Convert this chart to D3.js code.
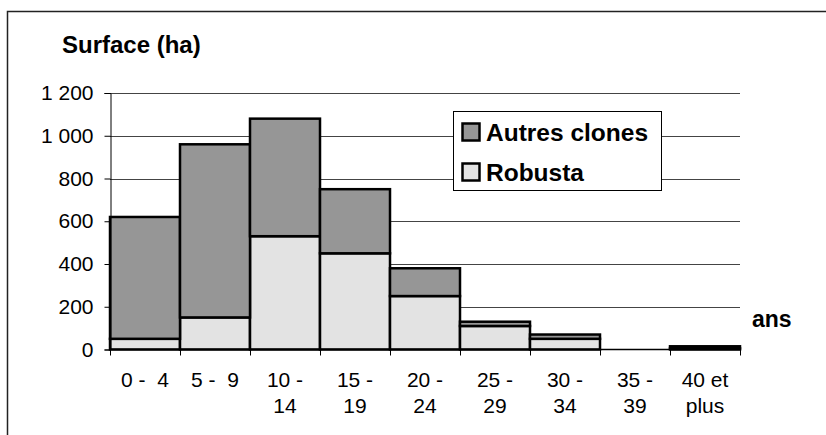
<!DOCTYPE html>
<html><head><meta charset="utf-8">
<script src="https://cdn.jsdelivr.net/npm/d3@7"></script>
<style>body{margin:0;background:#fff}svg{display:block;font-family:"Liberation Sans",Arial,sans-serif}</style>
</head><body><svg id="c" width="826" height="435"></svg>
<script>
const categories = ["0 - 4","5 - 9","10 - 14","15 - 19","20 - 24","25 - 29","30 - 34","35 - 39","40 et plus"];
const labelLines = [["0 -  4"],["5 -  9"],["10 -","14"],["15 -","19"],["20 -","24"],["25 -","29"],["30 -","34"],["35 -","39"],["40 et","plus"]];
const robusta = [50,150,530,450,250,110,50,0,5];
const autres  = [570,810,550,300,130,20,20,0,10];
const yTicks = [0,200,400,600,800,1000,1200];
const seriesNames = ["Autres clones","Robusta"];
const colors = {"Robusta":"#e3e3e3","Autres clones":"#969696"};

const svg = d3.select("#c");
svg.append("rect").attr("x",7.5).attr("y",11.5).attr("width",830).attr("height",440)
  .attr("fill","none").attr("stroke","#222").attr("stroke-width",1.5);

const x = d3.scaleBand().domain(categories).range([110,740]).padding(0);
const y = d3.scaleLinear().domain([0,1200]).range([349.5,93]);

// gridlines
svg.append("g").selectAll("line").data(yTicks.filter(d=>d>0)).join("line")
  .attr("x1",110).attr("x2",740).attr("y1",d=>Math.round(y(d))+0.5).attr("y2",d=>Math.round(y(d))+0.5)
  .attr("stroke","#444").attr("stroke-width",1);

const data = categories.map((c,i)=>({cat:c, Robusta:robusta[i], "Autres clones":autres[i]}));
const stack = d3.stack().keys(["Robusta","Autres clones"])(data);

svg.append("g").selectAll("g").data(stack).join("g")
  .attr("fill",d=>colors[d.key])
  .selectAll("rect").data(d=>d.filter(v=>v[1]-v[0]>0)).join("rect")
  .attr("x",d=>x(d.data.cat)).attr("width",x.bandwidth())
  .attr("y",d=>y(d[1])).attr("height",d=>Math.max(0,y(d[0])-y(d[1])))
  .attr("stroke","#000").attr("stroke-width",2.5);

// y axis
const ya = svg.append("g").attr("transform","translate(110.5,0)")
  .call(d3.axisLeft(y).tickValues(yTicks).tickSize(6).tickPadding(11)
    .tickFormat(d=>d3.format(",")(d).replace(/,/g," ")));
ya.select(".domain").attr("stroke","#000");
ya.selectAll("text").attr("font-size",21).attr("fill","#000").attr("font-family","Liberation Sans, Arial, sans-serif");

// x axis
const xa = svg.append("g").attr("transform","translate(0,349.5)");
xa.append("line").attr("x1",110).attr("x2",740).attr("y1",0).attr("y2",0).attr("stroke","#000").attr("stroke-width",1.5);
xa.selectAll("line.t").data(d3.range(categories.length+1)).join("line").attr("class","t")
  .attr("x1",i=>110+i*x.bandwidth()+0.5).attr("x2",i=>110+i*x.bandwidth()+0.5)
  .attr("y1",0).attr("y2",6).attr("stroke","#000");
const xl = xa.selectAll("text").data(categories).join("text")
  .attr("x",d=>x(d)+x.bandwidth()/2).attr("text-anchor","middle").attr("font-size",21).attr("fill","#000");
xl.each(function(d,i){
  const t=d3.select(this);
  labelLines[i].forEach((l,j)=>t.append("tspan").attr("x",x(d)+x.bandwidth()/2).attr("y",37+j*26.5).text(l).style("white-space","pre"));
});

// titles
svg.append("text").attr("x",62).attr("y",53).attr("font-size",24).attr("font-weight","bold").text("Surface (ha)");
svg.append("text").attr("x",752).attr("y",327).attr("font-size",23).attr("font-weight","bold").text("ans");

// legend
const lg = svg.append("g");
lg.append("rect").attr("x",453.5).attr("y",111.5).attr("width",208).attr("height",79).attr("fill","#fff").attr("stroke","#000").attr("stroke-width",1);
seriesNames.forEach((s,i)=>{
  const yy = 123.5 + i*40;
  lg.append("rect").attr("x",462.5).attr("y",yy).attr("width",17).attr("height",17).attr("fill",colors[s]).attr("stroke","#000").attr("stroke-width",2.5);
  lg.append("text").attr("x",486).attr("y",yy+17.5).attr("font-size",24.5).attr("font-weight","bold").text(s);
});
</script></body></html>
